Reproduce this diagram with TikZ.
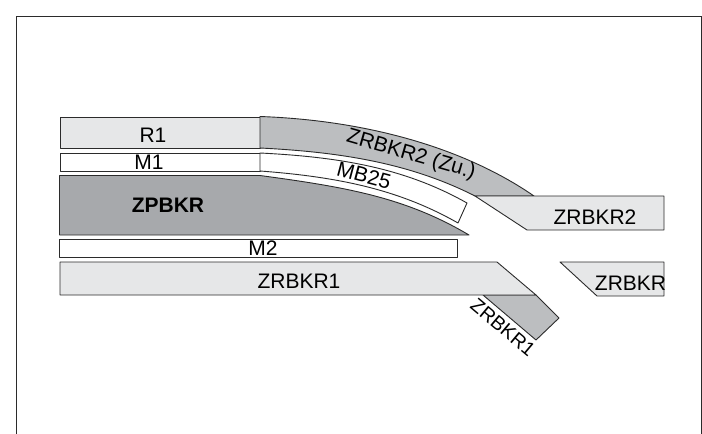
\documentclass[tikz,border=0pt]{standalone}
\usepackage{fontspec}
\setmainfont{Liberation Sans}
\usetikzlibrary{positioning}
\definecolor{lightpart}{HTML}{E6E7E8}
\definecolor{midpart}{HTML}{BCBEC0}
\definecolor{darkpart}{HTML}{A7A9AC}
\definecolor{edgeline}{HTML}{2B2B2B}
\tikzset{part/.style={draw=edgeline, line width=0.9pt, line join=round},
         label text/.style={font=\fontsize{21}{24}\selectfont, text=black, inner sep=0pt}
        }
\begin{document}
\begin{tikzpicture}[x=1pt,y=-1pt]
\useasboundingbox (0,0) rectangle (702,434);
%Frame
\coordinate (frameBL) at (16,434);
\coordinate (frameTL) at (16,16);
\coordinate (frameTR) at (701,16);
\coordinate (frameBR) at (701,434);
\draw[line width=1pt, edgeline] (frameBL) -- (frameTL) -- (frameTR) -- (frameBR);

%Upper parts
\draw[part, fill=lightpart] (60,117) rectangle (260,148);
\draw[part, fill=midpart] (260,116.5) .. controls (360,120) and (460,145) .. (534,196)
  -- (475,196) .. controls (410,163) and (340,152) .. (260,148) -- cycle;
\draw[part, fill=white] (60.5,153) rectangle (260,171);
\draw[part, fill=white] (260,153) .. controls (340,157) and (405,168) .. (467,203)
  -- (458,223) .. controls (400,190) and (340,177) .. (260,171) -- cycle;
\draw[part, fill=darkpart] (59.5,175.5) -- (260,175.5) .. controls (345,187) and (405,197) .. (469,235)
  -- (59.5,235) -- cycle;
\draw[part, fill=white] (59.5,239.5) rectangle (457,257);

%Lower parts
\draw[part, fill=midpart] (483,295) -- (536,295) -- (559,318) -- (536,340) -- cycle;
\draw[part, fill=lightpart] (60,262) -- (497,262) -- (536,295) -- (60,295) -- cycle;
\draw[part, fill=lightpart] (475,196) -- (664,196) -- (664,230) -- (527,230) -- cycle;
\draw[part, fill=lightpart] (560,262) -- (664,262) -- (664,296) -- (597,296) -- cycle;

%Labels
\node[label text] (r1) at (153,135) {R1};
\node[label text] (m1) at (149,162.5) {M1};
\node[label text, font=\fontsize{21}{24}\selectfont\bfseries] (zpbkr) at (168,205) {ZPBKR};
\node[label text] (m2) at (263,248) {M2};
\node[label text] (zrbkr1) at (299,281) {ZRBKR1};
\node[label text] (zrbkr2) at (595,217) {ZRBKR2};
\node[label text] (zrbkr) at (630.5,283) {ZRBKR};
\node[label text, font=\fontsize{19.5}{24}\selectfont, rotate=-40] (zrbkr1b) at (503,327.5) {ZRBKR1};
\node[label text, rotate=-16] (zrbkr2zu) at (411,155) {ZRBKR2 (Zu.)};
\node[label text, rotate=-15] (mb25) at (364,175.5) {MB25};
\end{tikzpicture}
\end{document}
